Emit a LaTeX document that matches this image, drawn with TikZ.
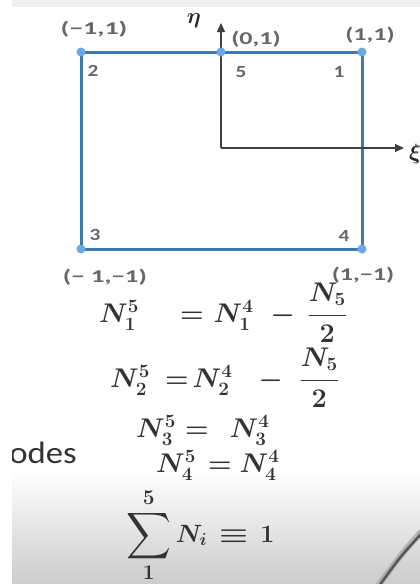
\RequirePackage{fix-cm}
\documentclass[tikz,border=0pt]{standalone}
\usepackage{amsmath}
\usepackage{graphicx}
\usepackage{fontspec}
\setmainfont{Carlito}
\usetikzlibrary{arrows.meta}
\definecolor{edgeblue}{HTML}{3F78AD}
\definecolor{dotblue}{HTML}{6AA8E6}
\definecolor{labgray}{HTML}{676767}
\definecolor{eqgray}{HTML}{333333}
\begin{document}
\begin{tikzpicture}[x=1pt,y=-1pt,
  corner/.style={circle,fill=dotblue,inner sep=0pt,minimum size=9pt},
  coordlab/.style={text=labgray,inner sep=0pt,font=\fontsize{18}{20}\selectfont\bfseries},
  numlab/.style={text=labgray,inner sep=0pt,font=\fontsize{17}{20}\selectfont\bfseries},
  eqn/.style={text=eqgray,anchor=base west,inner sep=0pt,font=\fontsize{27}{32}\selectfont\boldmath},
  axisline/.style={draw=black!75,line width=1.4pt,-{Triangle[length=9pt,width=8pt]}},
  sqedge/.style={draw=edgeblue,line width=3pt}]
\useasboundingbox (0,0) rectangle (420,584);
% slide background
\fill[white] (0,0) rectangle (420,584);
\fill[black!6] (12,0) rectangle (420,7);
\shade[top color=white,bottom color=black!20] (12,470) rectangle (420,584);
% decorative stroke bottom right
\draw[black!30,line width=6pt,line cap=round] (421,532) .. controls (400,556) .. (378,586);
\draw[black!65,line width=2.6pt,line cap=round] (421,534) .. controls (400,557) .. (379,586);

% element corners
\coordinate (c2) at (81,52);
\coordinate (c1) at (362,52);
\coordinate (c3) at (81,249);
\coordinate (c4) at (362,249);
\coordinate (c5) at (221,52);
\coordinate (o) at (221,148);
\coordinate (etatip) at (221,23);
\coordinate (xitip) at (404,148);

\draw[sqedge] (c2) -- (c5) -- (c1) -- (c4) -- (c3) -- cycle;
\draw[axisline] (o) -- (etatip);
\draw[axisline] (o) -- (xitip);
\foreach \p in {c1,c2,c3,c4,c5} \node[corner] (d\p) at (\p) {};

% labels
\node[coordlab] (l2) at (94,29) {\scalebox{1.55}[1]{(\textminus1,1)}};
\node[coordlab] (l5) at (256,39) {\scalebox{1.45}[1]{(0,1)}};
\node[coordlab] (l1) at (370,35) {\scalebox{1.45}[1]{(1,1)}};
\node[coordlab] (l3) at (105,277) {\scalebox{1.5}[1]{(\textminus\ 1,\textminus1)}};
\node[coordlab] (l4) at (363,275) {\scalebox{1.45}[1]{(1,\textminus1)}};
\node[text=black!85,inner sep=0pt,font=\fontsize{22}{24}\selectfont\boldmath] (eta) at (194,21) {$\eta$};
\begin{scope}
\clip (12,0) rectangle (420,584);
\node[text=black!85,inner sep=0pt,font=\fontsize{22}{24}\selectfont\boldmath] (xi) at (415,154) {$\xi$};
\node[text=eqgray,anchor=base east,inner sep=0pt,font=\fontsize{31}{34}\selectfont] (nodes) at (77,463) {\scalebox{1.12}[1]{Nodes}};
\end{scope}

\node[numlab] (n2) at (93,71) {\scalebox{1.25}[1]{2}};
\node[numlab] (n5) at (241,72) {\scalebox{1.25}[1]{5}};
\node[numlab] (n1) at (339,72) {\scalebox{1.25}[1]{1}};
\node[numlab] (n3) at (95,235) {\scalebox{1.25}[1]{3}};
\node[numlab] (n4) at (344,236) {\scalebox{1.25}[1]{4}};

% equations
\node[eqn] (eq1) at (99,322) {$N_1^5\hspace{41pt}{=}\hspace{10pt}N_1^4\hspace{17pt}{-}\hspace{13pt}\dfrac{N_5}{2}$};
\node[eqn] (eq2) at (110,387) {$N_2^5\hspace{15pt}{=}\hspace{4pt}N_2^4\hspace{26pt}{-}\hspace{17pt}\dfrac{N_5}{2}$};
\node[eqn] (eq3) at (136,437) {$N_3^5\hspace{9pt}{=}\hspace{21pt}N_3^4$};
\node[eqn] (eq4) at (156,472) {$N_4^5\hspace{12pt}{=}\hspace{8pt}N_4^4$};
\node[eqn,font=\fontsize{25}{28}\selectfont\boldmath] (sum) at (126,542) {$\displaystyle\mathop{\vcenter{\hbox{\scalebox{1.25}[1.3]{$\displaystyle\sum$}}}}\limits_{\mbox{\fontsize{21}{21}\selectfont$1$}}^{\mbox{\fontsize{21}{21}\selectfont$5$}} N_i \mathrel{\hspace{4pt}\scalebox{1.3}[1]{$\equiv$}\hspace{4pt}} 1$};
\end{tikzpicture}
\end{document}
